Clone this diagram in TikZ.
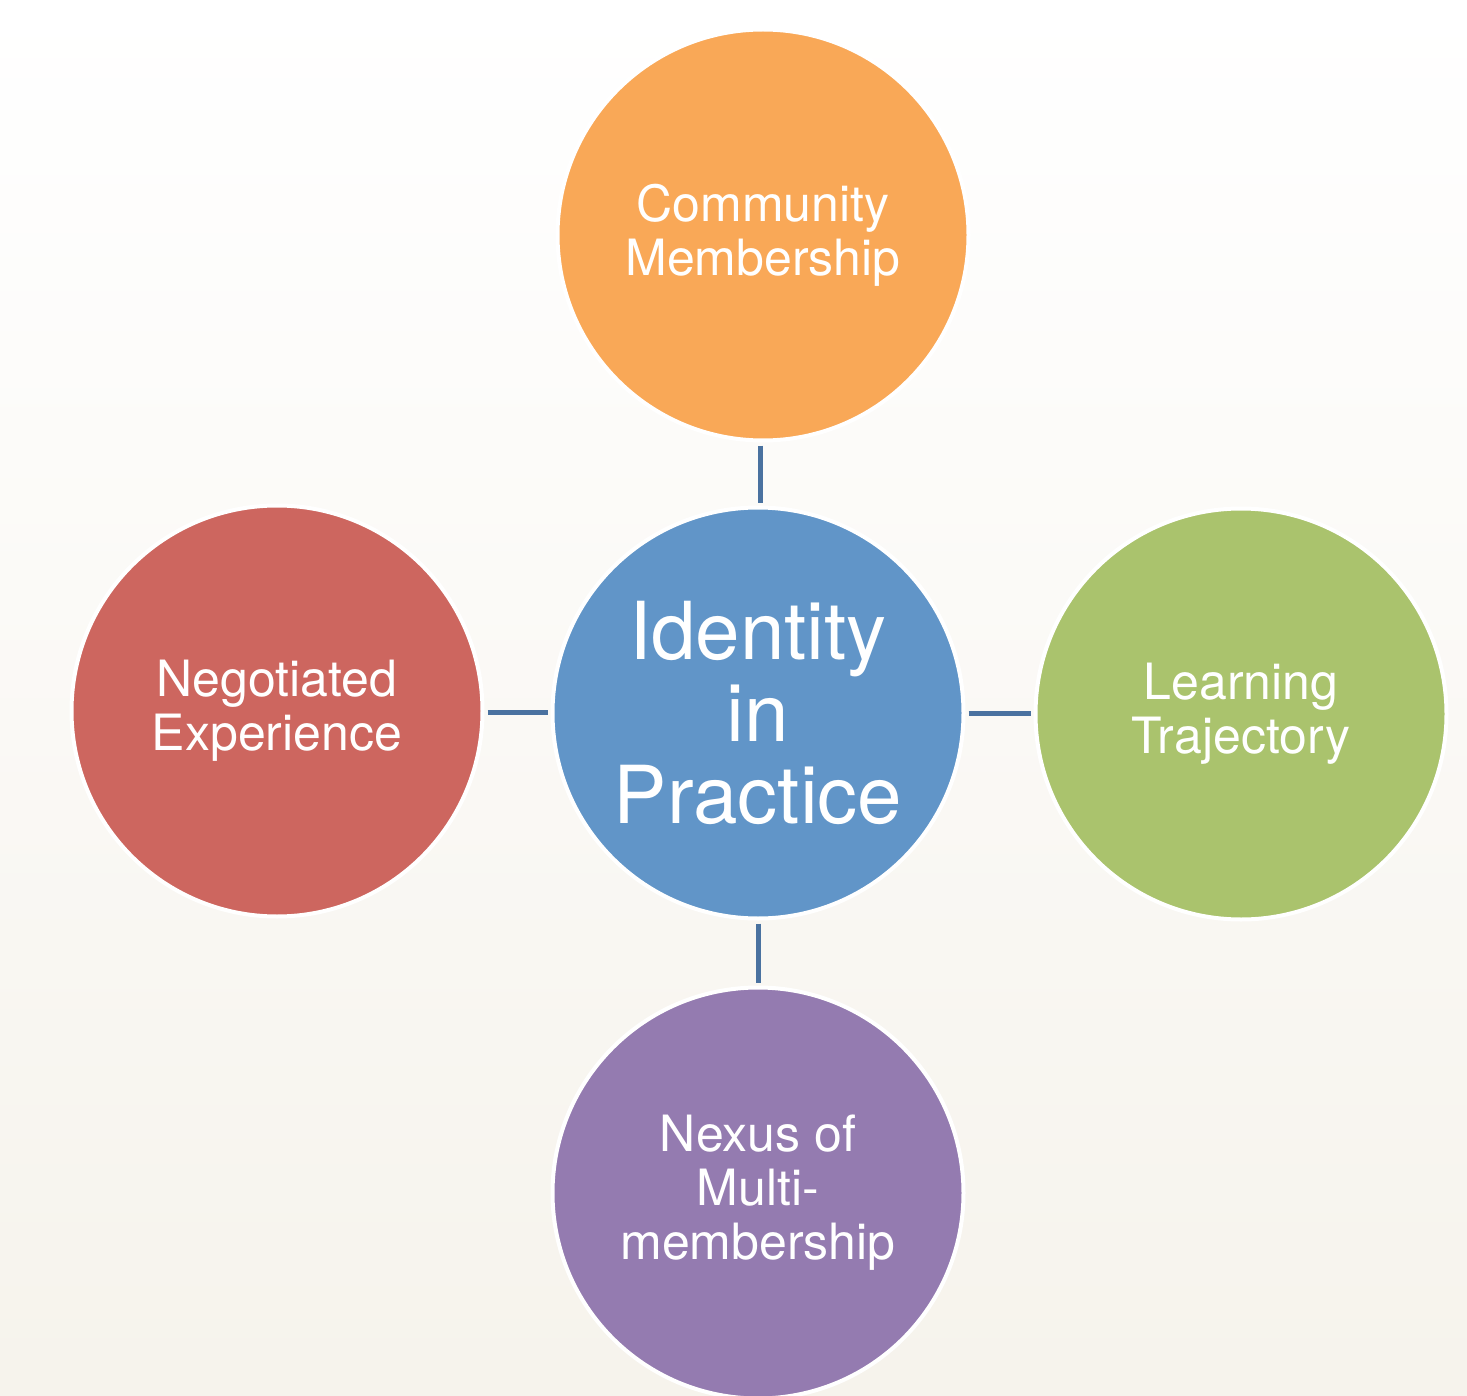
\documentclass[tikz,border=0pt]{standalone}
\usepackage{fontspec}
\setmainfont{TeX Gyre Heros}
\definecolor{bgbot}{RGB}{246,243,236}
\definecolor{corange}{RGB}{249,168,87}
\definecolor{cblue}{RGB}{97,149,200}
\definecolor{cgreen}{RGB}{170,195,109}
\definecolor{cred}{RGB}{205,102,95}
\definecolor{cpurple}{RGB}{148,123,176}
\definecolor{cconn}{RGB}{74,114,160}
\begin{document}
\begin{tikzpicture}[x=1pt,y=-1pt,
  bubble/.style={circle,draw=white,line width=4pt,minimum size=411pt,inner sep=0pt,
    text=white,align=center,font=\fontsize{50}{54}\selectfont},
  conn/.style={draw=cconn,line width=5pt,shorten <=3pt,shorten >=3pt}]
\useasboundingbox (0,0) rectangle (1467,1396);
\shade[top color=white,bottom color=bgbot,middle color=white!50!bgbot] (0,0) rectangle (1467,1396);
\node[bubble,fill=corange] (top) at (763,235) {Community\\Membership};
\node[bubble,fill=cblue,font=\fontsize{80}{82}\selectfont] (center) at (758,713) {Identity\\in\\Practice};
\node[bubble,fill=cgreen] (right) at (1241,714) {Learning\\Trajectory};
\node[bubble,fill=cred] (left) at (277,711) {Negotiated\\Experience};
\node[bubble,fill=cpurple] (bottom) at (758,1193) {Nexus of\\Multi-\\membership};
\path (top.south) -- (center.north) coordinate[pos=0.5] (m1);
\draw[conn] (top.south -| m1) -- (center.north -| m1);
\path (left.east) -- (center.west) coordinate[pos=0.5] (m2);
\draw[conn] (left.east |- m2) -- (center.west |- m2);
\path (center.east) -- (right.west) coordinate[pos=0.5] (m3);
\draw[conn] (center.east |- m3) -- (right.west |- m3);
\draw[conn] (center.south) -- (bottom.north);
\end{tikzpicture}
\end{document}
